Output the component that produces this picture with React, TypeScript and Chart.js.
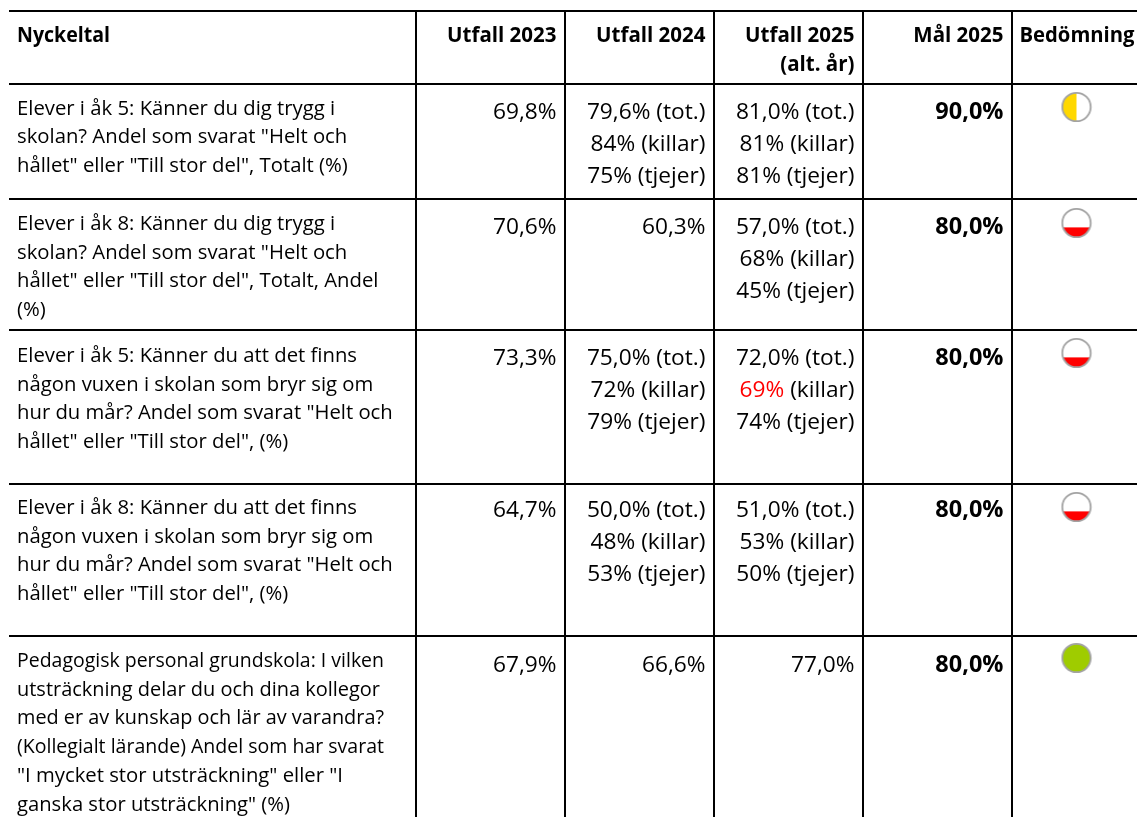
import React, { useEffect, useRef } from "react";
import { Chart, registerables } from "chart.js";

Chart.register(...registerables);

const headers = [
  ["Nyckeltal"],
  ["Utfall 2023"],
  ["Utfall 2024"],
  ["Utfall 2025", "(alt. år)"],
  ["Mål 2025"],
  ["Bedömning"],
];
const metrics = [
  ["Elever i åk 5: Känner du dig trygg i", "skolan? Andel som svarat \"Helt och", "hållet\" eller \"Till stor del\", Totalt (%)"],
  ["Elever i åk 8: Känner du dig trygg i", "skolan? Andel som svarat \"Helt och", "hållet\" eller \"Till stor del\", Totalt, Andel", "(%)"],
  ["Elever i åk 5: Känner du att det finns", "någon vuxen i skolan som bryr sig om", "hur du mår? Andel som svarat \"Helt och", "hållet\" eller \"Till stor del\", (%)"],
  ["Elever i åk 8: Känner du att det finns", "någon vuxen i skolan som bryr sig om", "hur du mår? Andel som svarat \"Helt och", "hållet\" eller \"Till stor del\", (%)"],
  ["Pedagogisk personal grundskola: I vilken", "utsträckning delar du och dina kollegor", "med er av kunskap och lär av varandra?", "(Kollegialt lärande) Andel som har svarat", "\"I mycket stor utsträckning\" eller \"I", "ganska stor utsträckning\" (%)"],
];
const outcome2023 = [["69,8%"], ["70,6%"], ["73,3%"], ["64,7%"], ["67,9%"]];
const outcome2024 = [
  ["79,6% (tot.)", "84% (killar)", "75% (tjejer)"],
  ["60,3%"],
  ["75,0% (tot.)", "72% (killar)", "79% (tjejer)"],
  ["50,0% (tot.)", "48% (killar)", "53% (tjejer)"],
  ["66,6%"],
];
const outcome2025 = [
  ["81,0% (tot.)", "81% (killar)", "81% (tjejer)"],
  ["57,0% (tot.)", "68% (killar)", "45% (tjejer)"],
  ["72,0% (tot.)", "69%| (killar)", "74% (tjejer)"],
  ["51,0% (tot.)", "53% (killar)", "50% (tjejer)"],
  ["77,0%"],
];
const goal2025 = ["90,0%", "80,0%", "80,0%", "80,0%", "80,0%"];
const assessment = ["yellow", "red", "red", "red", "green"];

// table geometry, used as the values of the two linear axes
const colEdges = [416, 565, 714, 863, 1012];
const rowEdges = [11, 84, 199, 330, 484, 636];
const iconOffset = [23, 24, 23, 23, 22];
const leftOffset = [30.5, 31, 32, 30, 31];
const numOffset = [34.5, 35, 35, 33, 36];
const lastRowWidths = [367, 363, 367, 367, 330, 273];
const FONT = '"Open Sans"';
const SIZE_LEFT = 20.3;
const SIZE_HEAD = 20.5;
const SIZE_NUM = 22.7;
const SIZE_GOAL = 23.5;

function makeIcon(kind: string) {
  const s = 32;
  const c = document.createElement("canvas");
  c.width = s;
  c.height = s;
  const g = c.getContext("2d")!;
  const r = 14.2;
  g.beginPath();
  g.arc(s / 2, s / 2, r, 0, Math.PI * 2);
  g.fillStyle = kind === "green" ? "#9fcc00" : "#ffffff";
  g.fill();
  g.save();
  g.clip();
  if (kind === "yellow") {
    g.fillStyle = "#ffd800";
    g.fillRect(0, 0, s / 2, s);
  } else if (kind === "red") {
    g.fillStyle = "#ff0000";
    g.fillRect(0, s / 2 + 4.4, s, s);
  }
  g.restore();
  g.beginPath();
  g.arc(s / 2, s / 2, r, 0, Math.PI * 2);
  g.strokeStyle = "#a3a3a3";
  g.lineWidth = 1.8;
  g.stroke();
  return c;
}

const tablePlugin = {
  id: "tableText",
  afterDatasetsDraw(chart: any) {
    const { ctx, scales } = chart;
    const X = (v: number) => scales.x.getPixelForValue(v);
    const Y = (v: number) => scales.y.getPixelForValue(v);
    ctx.save();
    ctx.textBaseline = "alphabetic";
    ctx.fillStyle = "#000";
    const right = (t: string, x: number, y: number) => {
      ctx.textAlign = "right";
      const [a, b] = t.split("|");
      if (b !== undefined) {
        ctx.fillStyle = "#000";
        ctx.fillText(b, x, y);
        const w = ctx.measureText(b).width;
        ctx.fillStyle = "#ff0000";
        ctx.fillText(a, x - w, y);
        ctx.fillStyle = "#000";
      } else ctx.fillText(t, x, y);
    };
    const rightX = [colEdges[1] - 8.5, colEdges[2] - 8.5, colEdges[3] - 8.5, colEdges[4] - 8.5];
    // header
    ctx.font = `bold ${SIZE_HEAD}px ${FONT}`;
    ctx.textAlign = "left";
    ctx.fillText(headers[0][0], X(17), Y(42), 93);
    for (let c = 1; c <= 4; c++) {
      headers[c].forEach((t, i) => right(t, X(rightX[c - 1]), Y(42 + i * 29)));
    }
    ctx.textAlign = "center";
    ctx.fillText(headers[5][0], X(1077), Y(42), 115);
    // body
    for (let r = 0; r < metrics.length; r++) {
      const top = rowEdges[r + 1];
      ctx.font = `${SIZE_LEFT}px ${FONT}`;
      ctx.textAlign = "left";
      metrics[r].forEach((t, i) => {
        const y = Y(top + leftOffset[r] + i * 28.7);
        if (r === metrics.length - 1) ctx.fillText(t, X(17), y, lastRowWidths[i]);
        else ctx.fillText(t, X(17), y);
      });
      ctx.font = `${SIZE_NUM}px ${FONT}`;
      [outcome2023, outcome2024, outcome2025].forEach((col, c) => {
        col[r].forEach((t, i) => right(t, X(rightX[c]), Y(top + numOffset[r] + i * 32)));
      });
      ctx.font = `bold ${SIZE_GOAL}px ${FONT}`;
      right(goal2025[r], X(rightX[3]), Y(top + numOffset[r]));
    }
    ctx.restore();
  },
};

export default function App() {
  const ref = useRef<HTMLCanvasElement>(null);
  useEffect(() => {
    const icons = assessment.map(makeIcon);
    const chart = new Chart(ref.current!, {
      type: "scatter",
      data: {
        datasets: [
          {
            label: "Bedömning",
            data: assessment.map((_, i) => ({ x: 1076.5, y: rowEdges[i + 1] + iconOffset[i] })),
            pointStyle: icons as any,
            pointRadius: 16,
            pointBorderWidth: 0,
          },
        ],
      },
      options: {
        animation: false,
        responsive: false,
        events: [],
        layout: { autoPadding: false, padding: { left: 9, top: 11, right: 0, bottom: 0 } },
        plugins: { legend: { display: false }, title: { display: false }, tooltip: { enabled: false } },
        scales: {
          x: {
            type: "linear",
            min: 9,
            max: 1137,
            afterBuildTicks: (s: any) => {
              s.ticks = colEdges.map((value) => ({ value }));
            },
            grid: { color: "#000", lineWidth: 2, drawTicks: false },
            border: { display: false },
            ticks: { display: false },
          },
          y: {
            type: "linear",
            reverse: true,
            min: 11,
            max: 817,
            afterBuildTicks: (s: any) => {
              s.ticks = rowEdges.map((value) => ({ value }));
            },
            grid: { color: "#000", lineWidth: 2, drawTicks: false },
            border: { display: false },
            ticks: { display: false },
          },
        },
      },
      plugins: [tablePlugin],
    } as any);
    return () => chart.destroy();
  }, []);
  return (
    <div style={{ position: "fixed", left: 0, top: 0, width: 1137, height: 817, background: "#fff" }}>
      <canvas ref={ref} width={1137} height={817} style={{ display: "block" }} />
    </div>
  );
}
